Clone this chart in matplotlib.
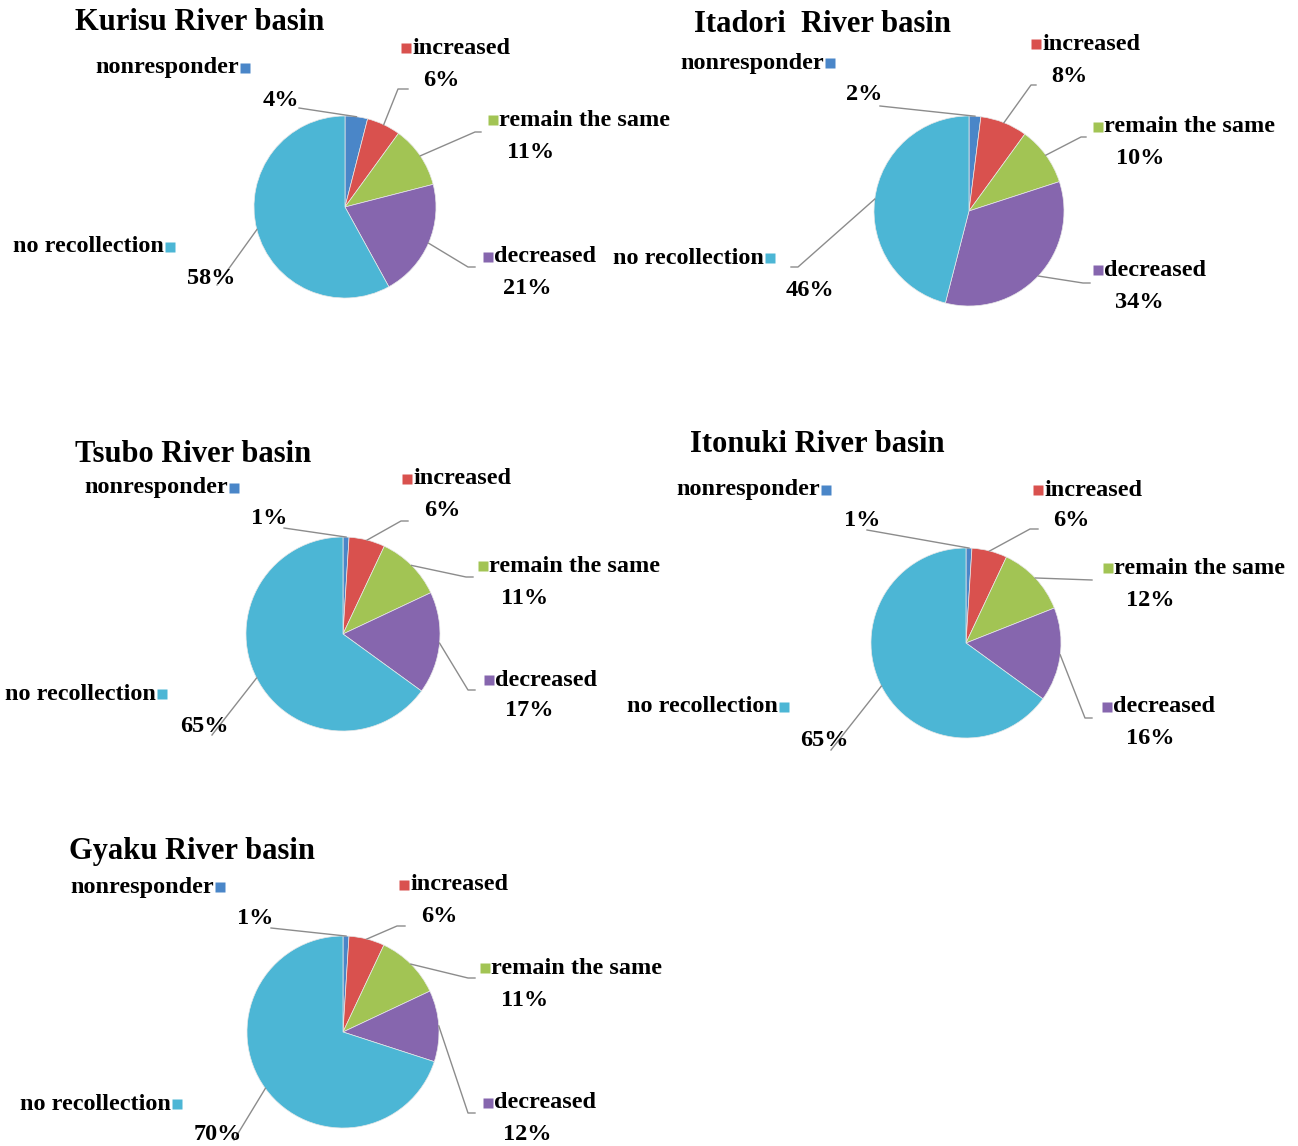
import matplotlib
matplotlib.use("Agg")
import matplotlib.pyplot as plt
import numpy as np

# Survey answers per river basin (percent of respondents)
categories = ["nonresponder", "increased", "remain the same", "decreased", "no recollection"]
basins = ["Kurisu River basin", "Itadori  River basin", "Tsubo River basin",
          "Itonuki River basin", "Gyaku River basin"]
kurisu = [4, 6, 11, 21, 58]
itadori = [2, 8, 10, 34, 46]
tsubo = [1, 6, 11, 17, 65]
itonuki = [1, 6, 12, 16, 65]
gyaku = [1, 6, 11, 12, 70]
shares = [kurisu, itadori, tsubo, itonuki, gyaku]

colors = ["#4A86C8", "#D9514E", "#A2C454", "#8666AE", "#4CB6D5"]

# Page layout in pixels: pie centre, radius, title anchor
centers = [(345, 207), (969, 211), (343, 634), (966, 643), (343, 1032)]
radii = [91, 95, 97, 95, 96]
title_pos = [(75, 22), (694, 24), (75, 454), (690, 445), (69, 852)]

# Per category: legend square (x, y, side of text), percent anchor, leader path
squares = [
    [(245, 68, "L"), (406, 48, "R"), (493, 120, "R"), (488, 257, "R"), (170, 247, "L")],
    [(830, 63, "L"), (1036, 44, "R"), (1098, 127, "R"), (1098, 270, "R"), (770, 258, "L")],
    [(234, 488, "L"), (407, 479, "R"), (483, 566, "R"), (489, 680, "R"), (162, 694, "L")],
    [(826, 490, "L"), (1038, 490, "R"), (1108, 568, "R"), (1107, 707, "R"), (784, 707, "L")],
    [(220, 887, "L"), (404, 885, "R"), (485, 968, "R"), (488, 1103, "R"), (177, 1104, "L")],
]
pct_pos = [
    [(263, 100), (423, 81), (507, 153), (503, 288), (187, 278)],
    [(846, 95), (1051, 77), (1116, 159), (1115, 302), (786, 290)],
    [(251, 519), (424, 511), (501, 598), (505, 711), (180, 727)],
    [(844, 521), (1053, 521), (1126, 600), (1126, 738), (800, 740)],
    [(237, 918), (421, 917), (501, 1000), (503, 1134), (194, 1135)],
]
leaders = [
    [[(299, 108)], [(398, 89), (408, 89)], [(475, 132), (481, 132)],
     [(468, 267), (475, 267)], [(217, 285)]],
    [[(880, 106)], [(1031, 85), (1036, 85)], [(1081, 137), (1086, 137)],
     [(1083, 283), (1090, 283)], [(798, 267), (791, 267)]],
    [[(284, 528)], [(401, 521), (408, 521)], [(466, 577), (473, 577)],
     [(468, 690), (475, 690)], [(212, 735)]],
    [[(867, 530)], [(1030, 529), (1038, 529)], [(1092, 580)],
     [(1085, 718), (1092, 718)], [(831, 750)]],
    [[(271, 928)], [(397, 926), (405, 926)], [(468, 978), (475, 978)],
     [(468, 1113), (475, 1113)], [(234, 1140)]],
]

W, H = 1298, 1146
font = {"family": "Liberation Serif", "weight": "bold"}

fig = plt.figure(figsize=(W / 100, H / 100), dpi=100)
ax = fig.add_axes([0, 0, 1, 1])

for i, vals in enumerate(shares):
    cx, cy = centers[i]
    r = radii[i]
    # y axis runs downward, so counterclock in data space is clockwise on screen
    wedges, _ = ax.pie(vals, colors=colors, startangle=-90, counterclock=True,
                       center=(cx, cy), radius=r,
                       wedgeprops=dict(edgecolor="#e8e8e8", linewidth=0.5))

    ax.text(title_pos[i][0], title_pos[i][1], basins[i], fontsize=22,
            ha="left", va="center", **font)

    for j, w in enumerate(wedges):
        mid = np.deg2rad((w.theta1 + w.theta2) / 2)
        start = (cx + r * np.cos(mid), cy + r * np.sin(mid))
        path = [start] + leaders[i][j]
        ax.plot([p[0] for p in path], [p[1] for p in path],
                color="#8c8c8c", lw=1.0, zorder=1)

        sx, sy, side = squares[i][j]
        ax.plot(sx, sy, marker="s", ms=7.5, color=colors[j], mec="none", zorder=3)
        if side == "R":
            ax.text(sx + 6, sy, categories[j], fontsize=17.5, ha="left",
                    va="center", **font)
        else:
            ax.text(sx - 6, sy, categories[j], fontsize=17.5, ha="right",
                    va="center", **font)

        px, py = pct_pos[i][j]
        ax.text(px, py, f"{vals[j]}%", fontsize=17.5, ha="left", va="center", **font)

ax.set_xlim(0, W)
ax.set_ylim(H, 0)
ax.set_aspect("auto")
ax.axis("off")

fig.savefig("out.png", dpi=100, facecolor="white")
